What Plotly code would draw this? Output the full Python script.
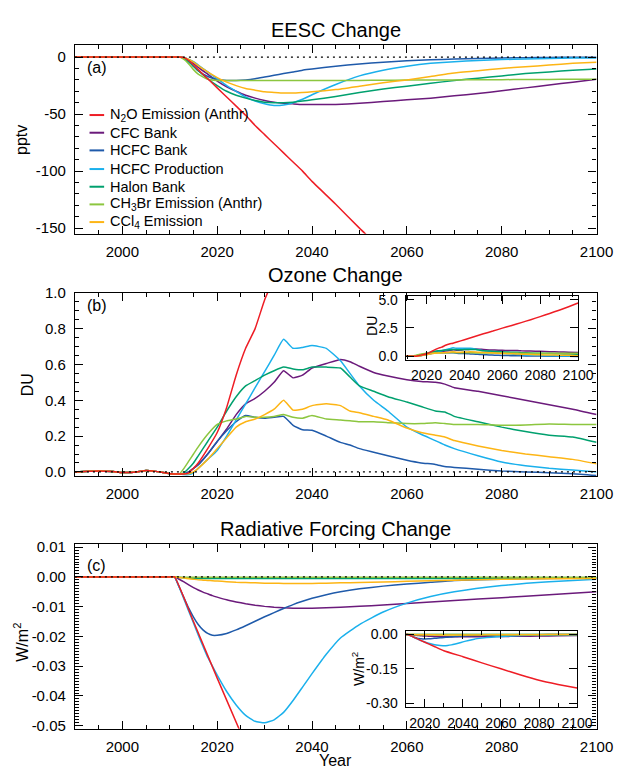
import plotly.graph_objects as go

# ---------------- DATA ----------------
SERIES_NAMES = ["N<sub>2</sub>O Emission (Anthr)", "CFC Bank", "HCFC Bank", "HCFC Production",
                "Halon Bank", "CH<sub>3</sub>Br Emission (Anthr)", "CCl<sub>4</sub> Emission"]
SERIES_COLORS = ["#EE1D25", "#6B1A7B", "#1F5AAA", "#1AB0EC", "#00A06E", "#8CC63F", "#FDB515"]

# Panel (a) EESC change (pptv)
years_a = [1990, 2000, 2010, 2012, 2013, 2014, 2015, 2016, 2018, 2020, 2022, 2024, 2026, 2028, 2030, 2032,
           2034, 2036, 2038, 2040, 2045, 2050, 2055, 2060, 2065, 2070, 2075, 2080, 2085, 2090, 2095, 2100]
years_a_n2o = [1990, 2000, 2010, 2012, 2013, 2014, 2016, 2018, 2020, 2022, 2024, 2026, 2028, 2030, 2032,
               2034, 2036, 2038, 2040, 2045, 2050, 2055]
eesc_n2o = [0, 0, 0, 0, -0.5, -3, -11, -19, -27, -35, -43, -51, -60, -68, -76, -84, -92, -100, -109,
            -129, -150, -170]
eesc_cfc = [0, 0, 0, 0, -0.5, -2.5, -5.5, -9, -15, -21, -26, -30, -33.5, -36, -38, -39.5, -40.5, -41, -41.5,
            -41.5, -41.5, -40.5, -39, -37.5, -36, -34, -32, -29.5, -27, -24.5, -22, -19.5]
eesc_hcfc_bank = [0, 0, 0, 0, -1, -4, -8, -12, -17, -19.5, -20.5, -20.5, -20, -19, -17.5, -16, -14.5, -13,
                  -11.5, -10.5, -8, -6, -4.5, -3.3, -2.4, -1.7, -1.2, -0.8, -0.5, -0.3, -0.2, -0.1]
eesc_hcfc_prod = [0, 0, 0, 0, -0.5, -2, -4, -7, -13, -19, -25, -30, -35, -38.5, -41, -42.5, -42, -40, -37,
                  -33, -24, -16.5, -11.5, -8, -5.5, -4, -3, -2.2, -1.6, -1.2, -0.9, -0.7]
eesc_halon = [0, 0, 0, 0, -1, -4, -8, -12, -19, -25, -30, -33.5, -36, -38, -39.5, -40, -40, -39.5, -38.5,
              -37.5, -34.5, -31, -28, -25.5, -23, -20.5, -18.5, -16.5, -14.5, -13, -11.5, -10.5]
eesc_ch3br = [0, 0, 0, 0, -2, -6, -11, -15, -19.5, -20.5, -20.5, -20.5, -20.5, -20.5, -20.5, -20.5, -20.5,
              -20.5, -20.5, -20.5, -20.5, -20.5, -20.3, -20.2, -20.1, -20, -19.9, -19.8, -19.7, -19.6,
              -19.5, -19.5]
eesc_ccl4 = [0, 0, 0, 0, -0.5, -2, -4.5, -7.5, -13, -18, -22, -25, -27.5, -29, -30.5, -31, -31.5, -31.5, -31,
             -30.5, -28.5, -25.5, -22.5, -20, -17, -14, -12, -10, -8.5, -7, -5.5, -4.5]

# Panel (b) Ozone change (DU)
years_b = [1990, 1993, 1995, 1998, 2000, 2003, 2005, 2007, 2010, 2012, 2013, 2014, 2015, 2016, 2018,
           2020, 2022, 2024, 2026, 2028, 2030, 2032, 2034, 2036, 2038, 2040, 2043, 2046, 2048, 2050,
           2053, 2056, 2060, 2063, 2066, 2068, 2070, 2075, 2080, 2085, 2090, 2095, 2100]
years_b_n2o = [1990, 1993, 1995, 1998, 2000, 2003, 2005, 2007, 2010, 2012, 2013, 2014, 2015, 2016, 2018,
               2020, 2022, 2024, 2026, 2028, 2030, 2032, 2034, 2036, 2040, 2045, 2050, 2055, 2060, 2065,
               2070, 2075, 2080, 2085, 2090, 2095, 2100]
o3_pre = [0.0, 0.003, 0.005, 0.002, -0.003, 0.0, 0.008, 0.003, -0.01, -0.012]
o3_n2o = o3_pre + [-0.012, -0.005, 0.02, 0.05, 0.13, 0.22, 0.36, 0.54, 0.69, 0.8, 0.96, 1.08, 1.15, 1.25,
                   1.45, 1.72, 1.98, 2.22, 2.48, 2.72, 2.97, 3.23, 3.5, 3.78, 4.07, 4.38, 4.7]
o3_cfc = o3_pre + [-0.01, 0.0, 0.02, 0.04, 0.1, 0.17, 0.24, 0.32, 0.38, 0.41, 0.45, 0.5, 0.565, 0.525,
                   0.54, 0.58, 0.605, 0.628, 0.615, 0.59, 0.555, 0.535, 0.515, 0.505, 0.5, 0.49, 0.47,
                   0.45, 0.425, 0.4, 0.375, 0.35, 0.32]
o3_hcfc_bank = o3_pre + [-0.01, 0.0, 0.02, 0.04, 0.1, 0.17, 0.23, 0.28, 0.315, 0.305, 0.3, 0.305, 0.31,
                         0.26, 0.235, 0.232, 0.2, 0.165, 0.15, 0.13, 0.11, 0.09, 0.065, 0.05, 0.042, 0.03,
                         0.025, 0.015, 0.005, 0.0, -0.005, -0.01, -0.02]
o3_hcfc_prod = o3_pre + [-0.015, -0.015, -0.005, 0.02, 0.07, 0.12, 0.2, 0.29, 0.38, 0.47, 0.56, 0.65,
                         0.74, 0.69, 0.695, 0.705, 0.69, 0.62, 0.55, 0.48, 0.4, 0.34, 0.25, 0.21, 0.175,
                         0.15, 0.13, 0.09, 0.055, 0.035, 0.02, 0.01, 0.0]
o3_halon = o3_pre + [-0.005, 0.02, 0.05, 0.09, 0.17, 0.25, 0.34, 0.42, 0.48, 0.51, 0.54, 0.565, 0.585,
                     0.575, 0.57, 0.585, 0.585, 0.58, 0.53, 0.48, 0.45, 0.42, 0.39, 0.365, 0.34, 0.335,
                     0.31, 0.28, 0.25, 0.225, 0.205, 0.195, 0.165]
o3_ch3br = o3_pre + [0.02, 0.06, 0.1, 0.14, 0.21, 0.265, 0.285, 0.295, 0.31, 0.305, 0.305, 0.31, 0.32,
                     0.305, 0.3, 0.315, 0.295, 0.29, 0.285, 0.28, 0.28, 0.275, 0.27, 0.27, 0.275, 0.27,
                     0.265, 0.265, 0.26, 0.262, 0.267, 0.265, 0.265]
o3_ccl4 = o3_pre + [-0.01, -0.01, 0.0, 0.02, 0.07, 0.13, 0.19, 0.25, 0.28, 0.295, 0.32, 0.35, 0.4, 0.345,
                    0.35, 0.37, 0.38, 0.37, 0.34, 0.33, 0.31, 0.29, 0.245, 0.22, 0.205, 0.195, 0.175,
                    0.145, 0.12, 0.1, 0.085, 0.07, 0.045]

# Panel (c) Radiative forcing change (W/m2)
years_c = [1990, 2000, 2008, 2010, 2011, 2012, 2013, 2014, 2015, 2016, 2017, 2018, 2019, 2020, 2022, 2024,
           2026, 2028, 2030, 2032, 2034, 2036, 2038, 2040, 2043, 2046, 2050, 2055, 2060, 2065, 2070, 2080,
           2090, 2100]
years_c_n2o = [1990, 2000, 2008, 2010, 2011, 2015, 2020, 2025, 2030, 2040, 2050, 2060, 2070, 2080, 2090, 2100]
rf_n2o = [0, 0, 0, 0, 0, -0.015, -0.034, -0.0525, -0.071, -0.097, -0.124, -0.15, -0.176, -0.2, -0.218, -0.234]
rf_cfc = [0, 0, 0, 0, 0, -0.0008, -0.0017, -0.0027, -0.0036, -0.0044, -0.0051, -0.0057, -0.0063, -0.0068,
          -0.0077, -0.0084, -0.009, -0.0095, -0.0099, -0.0102, -0.0104, -0.0105, -0.0105, -0.0105, -0.0104,
          -0.0102, -0.0099, -0.0094, -0.0089, -0.0084, -0.0079, -0.007, -0.006, -0.005]
rf_hcfc_bank = [0, 0, 0, 0, 0, -0.0035, -0.007, -0.0105, -0.0135, -0.016, -0.0178, -0.019, -0.0196, -0.0196,
                -0.019, -0.0178, -0.0164, -0.0149, -0.0134, -0.012, -0.0106, -0.0093, -0.0082, -0.0072,
                -0.006, -0.005, -0.004, -0.0031, -0.0024, -0.0018, -0.0012, -0.0008, -0.0005, -0.0004]
rf_hcfc_prod = [0, 0, 0, 0, 0, -0.0035, -0.0075, -0.0115, -0.0155, -0.0195, -0.0233, -0.027, -0.030, -0.033,
                -0.0385, -0.043, -0.0465, -0.0485, -0.049, -0.048, -0.0455, -0.0415, -0.037, -0.0325,
                -0.026, -0.0205, -0.016, -0.0118, -0.0088, -0.0066, -0.005, -0.0029, -0.0016, -0.0008]
rf_halon = [0, 0, 0, 0, 0, -0.0002, -0.0003, -0.0004, -0.0005, -0.0005, -0.0005, -0.0005, -0.0005, -0.0005,
            -0.0005, -0.0005, -0.0005, -0.0005, -0.0005, -0.0005, -0.0005, -0.0005, -0.0005, -0.0005,
            -0.0005, -0.0005, -0.0005, -0.0005, -0.0005, -0.0005, -0.0005, -0.0005, -0.0004, -0.0004]
rf_ch3br = [0, 0, 0, 0, 0, -0.0001, -0.0001, -0.0001, -0.0001, -0.0001, -0.0001, -0.0001, -0.0001, -0.0001,
            -0.0001, -0.0001, -0.0001, -0.0001, -0.0001, -0.0001, -0.0001, -0.0001, -0.0001, -0.0001,
            -0.0001, -0.0001, -0.0001, -0.0001, -0.0001, -0.0001, -0.0001, -0.0001, -0.0001, -0.0001]
rf_ccl4 = [0, 0, 0, 0, 0, -0.0002, -0.0004, -0.0006, -0.0008, -0.001, -0.0011, -0.0012, -0.0013, -0.0014,
           -0.0016, -0.0018, -0.0019, -0.002, -0.0021, -0.0021, -0.0022, -0.0022, -0.0022, -0.0022, -0.0021,
           -0.002, -0.0019, -0.0017, -0.0015, -0.0013, -0.0011, -0.0008, -0.0006, -0.0005]

# Tick labels
x_ticks = [2000, 2020, 2040, 2060, 2080, 2100]
x_ticks_inset = [2020, 2040, 2060, 2080, 2100]
a_yticks = [0, -50, -100, -150]
a_ytext = ["0", "-50", "-100", "-150"]
b_yticks = [0.0, 0.2, 0.4, 0.6, 0.8, 1.0]
b_ytext = ["0.0", "0.2", "0.4", "0.6", "0.8", "1.0"]
b_in_yticks = [0.0, 2.5, 5.0]
b_in_ytext = ["0.0", "2.5", "5.0"]
c_yticks = [0.01, 0.0, -0.01, -0.02, -0.03, -0.04, -0.05]
c_ytext = ["0.01", "0.00", "-0.01", "-0.02", "-0.03", "-0.04", "-0.05"]
c_in_yticks = [0.0, -0.15, -0.30]
c_in_ytext = ["0.00", "-0.15", "-0.30"]

# ---------------- LAYOUT HELPERS ----------------
W, H = 633, 774
FONT = "Liberation Sans, Arial, Helvetica, sans-serif"


def xd(p0, p1):
    return [p0 / W, p1 / W]


def yd(top, bottom):
    return [1 - bottom / H, 1 - top / H]


fig = go.Figure()

panels = [
    ("x", "y", [(years_a_n2o, eesc_n2o)] + [(years_a, s) for s in
               [eesc_cfc, eesc_hcfc_bank, eesc_hcfc_prod, eesc_halon, eesc_ch3br, eesc_ccl4]]),
    ("x2", "y2", [(years_b_n2o, o3_n2o)] + [(years_b, s) for s in
                 [o3_cfc, o3_hcfc_bank, o3_hcfc_prod, o3_halon, o3_ch3br, o3_ccl4]]),
    ("x3", "y3", [(years_c_n2o, rf_n2o)] + [(years_c, s) for s in
                 [rf_cfc, rf_hcfc_bank, rf_hcfc_prod, rf_halon, rf_ch3br, rf_ccl4]]),
    ("x4", "y4", [(years_b_n2o, o3_n2o)] + [(years_b, s) for s in
                 [o3_cfc, o3_hcfc_bank, o3_hcfc_prod, o3_halon, o3_ch3br, o3_ccl4]]),
    ("x5", "y5", [(years_c_n2o, rf_n2o)] + [(years_c, s) for s in
                 [rf_cfc, rf_hcfc_bank, rf_hcfc_prod, rf_halon, rf_ch3br, rf_ccl4]]),
]

draw_order = [1, 2, 3, 4, 5, 6, 0]
for xa, ya, data in panels:
    for i in draw_order:
        xs, ys = data[i]
        fig.add_trace(go.Scatter(x=xs, y=ys, mode="lines", xaxis=xa, yaxis=ya,
                                 line=dict(color=SERIES_COLORS[i], width=1.5, shape="spline", smoothing=0.4),
                                 showlegend=False, hoverinfo="skip"))


def xaxis(domain, anchor, rng, ticks, minor_dt, size=15, standoff=4):
    return dict(domain=domain, anchor=anchor, range=rng, tickmode="array", tickvals=ticks,
                ticktext=[str(t) for t in ticks], ticks="inside", ticklen=8, tickwidth=1, tickcolor="black",
                minor=dict(ticks="inside", ticklen=4, dtick=minor_dt, tick0=2000, tickcolor="black"),
                showline=True, linecolor="black", linewidth=1.2, mirror="allticks", showgrid=False,
                zeroline=False, tickfont=dict(family=FONT, size=size, color="black"),
                ticklabelstandoff=standoff)


def yaxis(domain, anchor, rng, ticks, text, minor_dt=None, size=15, standoff=5):
    d = dict(domain=domain, anchor=anchor, range=rng, tickmode="array", tickvals=ticks, ticktext=text,
             ticks="inside", ticklen=8, tickwidth=1, tickcolor="black",
             showline=True, linecolor="black", linewidth=1.2, mirror="allticks", showgrid=False,
             zeroline=False, tickfont=dict(family=FONT, size=size, color="black"), ticklabelstandoff=standoff)
    if minor_dt:
        d["minor"] = dict(ticks="inside", ticklen=4, dtick=minor_dt, tick0=0, tickcolor="black")
    return d


LEFT, RIGHT = 77, 613
A_TOP, A_BOT = 37, 229
B_TOP, B_BOT = 289, 476
C_TOP, C_BOT = 545, 733
BI_L, BI_R, BI_T, BI_B = 417, 594, 292, 357
CI_L, CI_R, CI_T, CI_B = 417, 593, 633, 711

fig.update_layout(
    width=W, height=H, margin=dict(l=0, r=0, t=0, b=0), autosize=False,
    paper_bgcolor="white", plot_bgcolor="rgba(0,0,0,0)",
    font=dict(family=FONT, size=14, color="black"),
    showlegend=False,
    xaxis=xaxis(xd(LEFT, RIGHT), "y", [1990, 2100], x_ticks, 5),
    yaxis=yaxis(yd(A_TOP, A_BOT), "x", [-155, 10.3], a_yticks, a_ytext, 10),
    xaxis2=xaxis(xd(LEFT, RIGHT), "y2", [1990, 2100], x_ticks, 5),
    yaxis2=yaxis(yd(B_TOP, B_BOT), "x2", [-0.025, 1.0], b_yticks, b_ytext, 0.05),
    xaxis3=xaxis(xd(LEFT, RIGHT), "y3", [1990, 2100], x_ticks, 5),
    yaxis3=yaxis(yd(C_TOP, C_BOT), "x3", [-0.051, 0.011], c_yticks, c_ytext, 0.001),
    xaxis4=xaxis(xd(BI_L, BI_R), "y4", [2009, 2100], x_ticks_inset, 10, 14, 3),
    yaxis4=yaxis(yd(BI_T, BI_B), "x4", [-0.3, 5.35], b_in_yticks, b_in_ytext, None, 14, 4),
    xaxis5=xaxis(xd(CI_L, CI_R), "y5", [2010, 2100], x_ticks_inset, 10, 14, 3),
    yaxis5=yaxis(yd(CI_T, CI_B), "x5", [-0.317, 0.017], c_in_yticks, c_in_ytext, None, 14, 4),
)

# dotted zero lines in main panels
for xa, ya in [("x", "y"), ("x2", "y2"), ("x3", "y3")]:
    fig.add_shape(type="line", xref=xa, yref=ya, x0=1990, x1=2100, y0=0, y1=0,
                  line=dict(color="black", width=1.2, dash="2px,4px"), layer="above")

ann = []


def text(x, y, s, size=14, xanchor="center", yanchor="middle", angle=0):
    ann.append(dict(x=x / W, y=1 - y / H, xref="paper", yref="paper", text=s, showarrow=False,
                    xanchor=xanchor, yanchor=yanchor, textangle=angle,
                    font=dict(family=FONT, size=size, color="black")))


cx = (LEFT + RIGHT) / 2
text(cx, 21, "EESC Change", 20)
text(cx, 271, "Ozone Change", 20)
text(cx, 530, "Radiative Forcing Change", 20)
text(87, 60, "(a)", 16, xanchor="left")
text(87, 302, "(b)", 16, xanchor="left")
text(87, 567, "(c)", 16, xanchor="left")
text(22, 133, "pptv", 16, angle=-90)
text(28, 383, "DU", 16, angle=-90)
text(22, 645, "W/m<sup>2</sup>", 16, angle=-90)
text(382, 323, "DU", 14, angle=-90)
text(368, 672, "W/m<sup>2</sup>", 14, angle=-90)
text(cx, 765, "Year", 16)

# legend (panel a)
leg_y = [108, 126, 144, 163, 181, 199, 217]
for i, name in enumerate(SERIES_NAMES):
    y = leg_y[i]
    fig.add_shape(type="line", xref="paper", yref="paper", x0=92 / W, x1=107 / W,
                  y0=1 - y / H, y1=1 - y / H, line=dict(color=SERIES_COLORS[i], width=2))
    text(111, y, name, 14.5, xanchor="left")

fig.update_layout(annotations=ann)
fig.write_html("out.html", config={"displayModeBar": False},
               post_script="document.body.style.margin='0';document.body.style.overflow='hidden';")
